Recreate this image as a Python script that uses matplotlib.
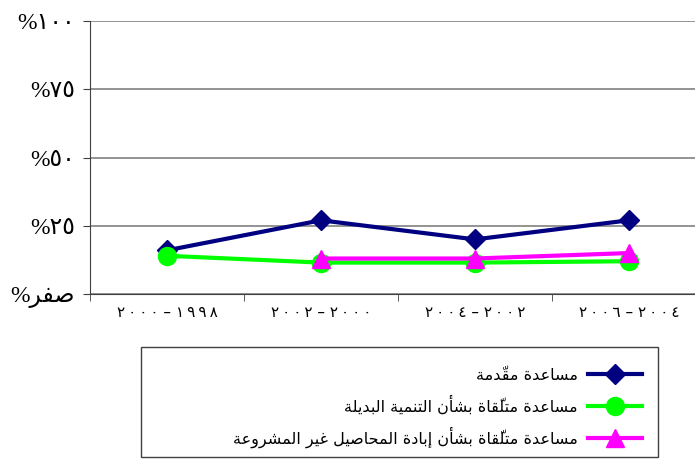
import numpy as np
import matplotlib
matplotlib.use("Agg")
import matplotlib.pyplot as plt
from matplotlib.patches import Rectangle

# data
periods = ["١٩٩٨-٢٠٠٠", "٢٠٠٠-٢٠٠٢", "٢٠٠٢-٢٠٠٤", "٢٠٠٤-٢٠٠٦"]
aid_given = [16, 27, 20, 27]
aid_alt_dev = [14, 11.5, 11.5, 12]
aid_eradication = [np.nan, 13, 13, 15]
series_names = [
    "مساعدة مقدّمة",
    "مساعدة متلقّاة بشأن التنمية البديلة",
    "مساعدة متلقّاة بشأن إبادة المحاصيل غير المشروعة",
]
y_ticks = [0, 25, 50, 75, 100]
y_tick_text = ["صفر", "٢٥", "٥٠", "٧٥", "١٠٠"]

# --- tiny arabic shaper (matplotlib has no bidi / joining support) ---
# letter: (isolated, final, initial, medial); None => does not join forward
FORMS = {
    "ا": (0xFE8D, 0xFE8E, None, None),
    "أ": (0xFE83, 0xFE84, None, None),
    "إ": (0xFE87, 0xFE88, None, None),
    "ب": (0xFE8F, 0xFE90, 0xFE91, 0xFE92),
    "ة": (0xFE93, 0xFE94, None, None),
    "ت": (0xFE95, 0xFE96, 0xFE97, 0xFE98),
    "ح": (0xFEA1, 0xFEA2, 0xFEA3, 0xFEA4),
    "د": (0xFEA9, 0xFEAA, None, None),
    "ر": (0xFEAD, 0xFEAE, None, None),
    "س": (0xFEB1, 0xFEB2, 0xFEB3, 0xFEB4),
    "ش": (0xFEB5, 0xFEB6, 0xFEB7, 0xFEB8),
    "ص": (0xFEB9, 0xFEBA, 0xFEBB, 0xFEBC),
    "ع": (0xFEC9, 0xFECA, 0xFECB, 0xFECC),
    "غ": (0xFECD, 0xFECE, 0xFECF, 0xFED0),
    "ف": (0xFED1, 0xFED2, 0xFED3, 0xFED4),
    "ق": (0xFED5, 0xFED6, 0xFED7, 0xFED8),
    "ل": (0xFEDD, 0xFEDE, 0xFEDF, 0xFEE0),
    "م": (0xFEE1, 0xFEE2, 0xFEE3, 0xFEE4),
    "ن": (0xFEE5, 0xFEE6, 0xFEE7, 0xFEE8),
    "و": (0xFEED, 0xFEEE, None, None),
    "ي": (0xFEF1, 0xFEF2, 0xFEF3, 0xFEF4),
}
MARKS = {"\u0651"}


def shape(text):
    clusters = []
    for c in text:
        if c in MARKS and clusters:
            clusters[-1].append(c)
        else:
            clusters.append([c])
    out = []
    for k, cl in enumerate(clusters):
        c = cl[0]
        if c not in FORMS:
            out.append(cl)
            continue
        prev = clusters[k - 1][0] if k > 0 else None
        nxt = clusters[k + 1][0] if k + 1 < len(clusters) else None
        j_prev = prev in FORMS and FORMS[prev][2] is not None
        j_next = FORMS[c][2] is not None and nxt in FORMS
        iso, fin, ini, med = FORMS[c]
        if j_prev and j_next:
            g = med
        elif j_prev:
            g = fin
        elif j_next:
            g = ini
        else:
            g = iso
        out.append([chr(g)] + cl[1:])
    return "".join("".join(cl) for cl in out[::-1])


def period_label(p):
    a, b = p.split("-")
    # spaced digits like the original
    return "\u2009".join(b) + " – " + "\u2009".join(a)


fig = plt.figure(figsize=(6.95, 4.61), dpi=100)
ax = fig.add_axes([90 / 695, 1 - 294 / 461, 616 / 695, 273 / 461])

x = np.arange(len(periods))
ax.plot(x, aid_given, color="#000080", lw=3, marker="D", ms=10, zorder=3,
        label=shape(series_names[0]))
ax.plot(x, aid_alt_dev, color="#00FF00", lw=3, marker="o", ms=13, zorder=4,
        label=shape(series_names[1]))
ax.plot(x, aid_eradication, color="#FF00FF", lw=3, marker="^", ms=13, zorder=5,
        label=shape(series_names[2]))

ax.set_xlim(-0.5, 3.5)
ax.set_ylim(0, 100)
ax.set_yticks(y_ticks)
ax.set_yticklabels(["%" + (shape(t) if i == 0 else t) for i, t in enumerate(y_tick_text)],
                   family=["Liberation Serif", "DejaVu Sans"], fontsize=17)
ax.set_xticks(x)
ax.set_xticklabels([period_label(p) for p in periods],
                   family=["DejaVu Sans"], fontsize=11)
ax.set_xticks(np.arange(-0.5, 3.6, 1), minor=True)
ax.tick_params(axis="x", which="major", length=0, pad=8)
ax.tick_params(axis="x", which="minor", length=5, color="#404040")
ax.tick_params(axis="y", length=5, color="#404040", pad=6)

ax.grid(axis="y", color="#808080", lw=1.2)
ax.set_axisbelow(True)
for s in ["top", "right"]:
    ax.spines[s].set_visible(False)
ax.spines["left"].set_color("#404040")
ax.spines["bottom"].set_color("#404040")

# legend box, wider than its content as in the original
fig.patches.append(Rectangle((141 / 695, 1 - 457 / 461), 517 / 695, 110 / 461,
                             transform=fig.transFigure, fill=False,
                             edgecolor="#404040", lw=1))
fig.legend(loc="upper right", bbox_to_anchor=(650 / 695, 1 - 360 / 461),
           frameon=False, markerfirst=False, handlelength=3.4,
           prop={"family": "DejaVu Sans", "size": 11.5}, labelspacing=0.75,
           borderpad=0, handletextpad=0.6)

fig.savefig("out.png", dpi=100)
